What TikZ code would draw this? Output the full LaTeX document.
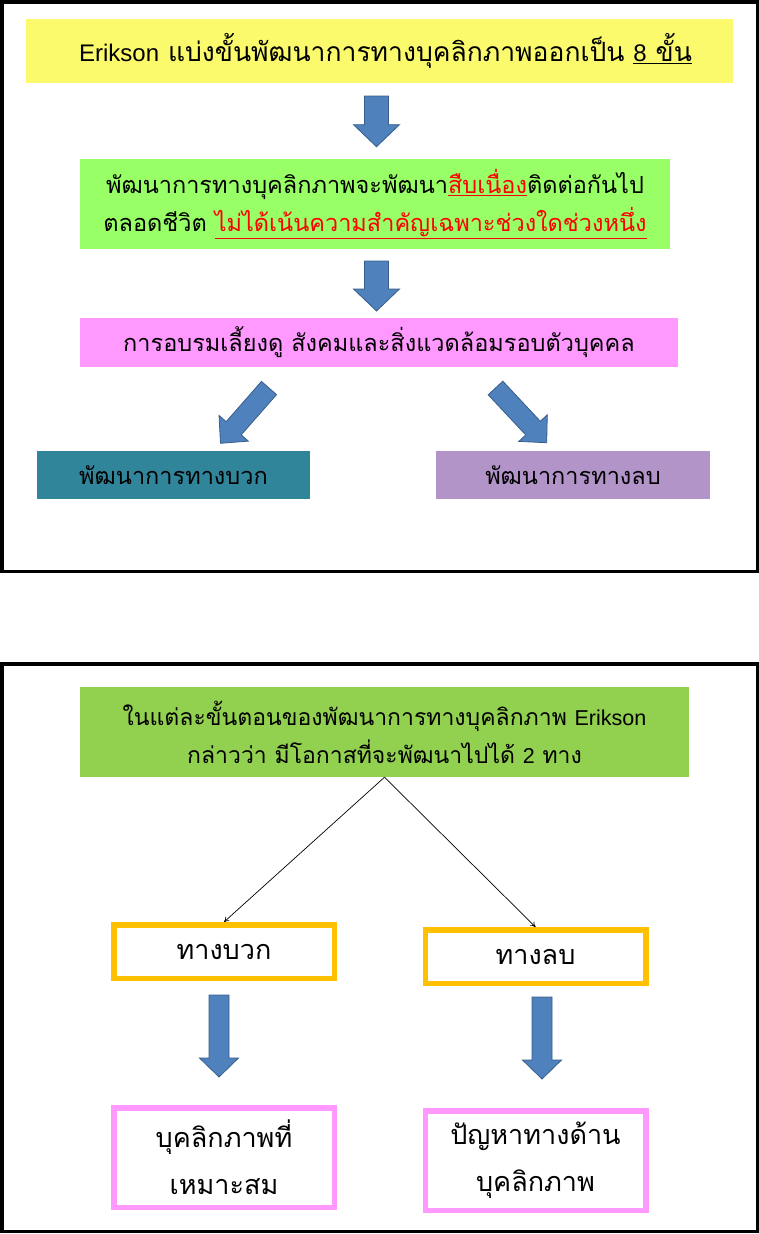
\documentclass[tikz,border=0pt]{standalone}
\usepackage{fontspec}
\setmainfont{Liberation Sans}
\newfontfamily\latinfont{Liberation Sans}
\newfontfamily\thaifont[Script=Thai]{Loma}
\usetikzlibrary{calc,arrows.meta}

\definecolor{yellowbox}{RGB}{250,250,108}
\definecolor{limebox}{RGB}{153,255,102}
\definecolor{pinkbox}{RGB}{255,153,255}
\definecolor{tealbox}{RGB}{49,133,155}
\definecolor{lilacbox}{RGB}{179,148,201}
\definecolor{greenbox}{RGB}{146,208,80}
\definecolor{goldline}{RGB}{255,192,0}
\definecolor{arrowfill}{RGB}{79,129,189}
\definecolor{arrowline}{RGB}{56,93,138}

% Latin words inside Thai text
\newcommand\enword[1]{{\latinfont #1}}
% red underlined emphasis
\newcommand\redline[1]{\textcolor{red}{\underline{#1}}}

% block arrow: tail, tip, shaft half-width, head half-width, head length
\newcommand\blockarrow[5]{%
  \coordinate (ba-h) at ($(#2)!#5!(#1)$);
  \filldraw[barrow]
    ($(#1)!#3!90:(#2)$) -- ($(ba-h)!#3!90:(#2)$) -- ($(ba-h)!#4!90:(#2)$)
    -- (#2)
    -- ($(ba-h)!#4!-90:(#2)$) -- ($(ba-h)!#3!-90:(#2)$) -- ($(#1)!#3!-90:(#2)$)
    -- cycle;
}

\tikzset{
  frame/.style={draw=black, line width=3.5pt},
  fillbox/.style={rectangle, inner sep=0pt, align=center, text=black},
  linebox/.style={rectangle, inner sep=0pt, align=center, line width=5.5pt, fill=white},
  barrow/.style={fill=arrowfill, draw=arrowline, line width=0.8pt, line join=miter},
  thin arrow/.style={draw=black, line width=0.7pt, -{To[length=5pt,width=6pt]}},
  headtext/.style={font=\thaifont\fontsize{26.5}{38}\selectfont},
  bigtext/.style={font=\thaifont\fontsize{23.5}{38}\selectfont},
  midtext/.style={font=\thaifont\fontsize{23}{38}\selectfont},
  boxtext/.style={font=\thaifont\fontsize{27}{47}\selectfont},
}

\begin{document}
\begin{tikzpicture}[x=1pt, y=-1pt]
\useasboundingbox (0,0) rectangle (759,1234);

% ---------------- upper panel ----------------
\draw[frame] (1.75,1.75) rectangle (757.25,571.25);

\node[fillbox, headtext, fill=yellowbox, minimum width=707pt, minimum height=64pt]
  (stages) at (379.5,51)
  {\hspace*{12pt}\enword{\fontsize{24}{38}\selectfont Erikson} แบ่งขั้นพัฒนาการทางบุคลิกภาพออกเป็น \underline{\enword{\fontsize{24}{38}\selectfont 8} ขั้น}};

\node[fillbox, bigtext, fill=limebox, minimum width=590pt, minimum height=90pt]
  (lifelong) at (375,204)
  {พัฒนาการทางบุคลิกภาพจะพัฒนา\redline{สืบเนื่อง}ติดต่อกันไป\\
   ตลอดชีวิต \redline{ไม่ได้เน้นความสำคัญเฉพาะช่วงใดช่วงหนึ่ง}};

\node[fillbox, bigtext, fill=pinkbox, minimum width=598pt, minimum height=49pt]
  (nurture) at (379,342.5)
  {การอบรมเลี้ยงดู สังคมและสิ่งแวดล้อมรอบตัวบุคคล};

\node[fillbox, bigtext, fill=tealbox, minimum width=273pt, minimum height=48pt]
  (positive) at (173.5,475) {พัฒนาการทางบวก};

\node[fillbox, bigtext, fill=lilacbox, minimum width=274pt, minimum height=48pt]
  (negative) at (573,475) {พัฒนาการทางลบ};

\coordinate (a1t) at (376.5,96);    \coordinate (a1h) at (376.5,146.7);
\coordinate (a2t) at (376.5,261);   \coordinate (a2h) at (376.5,311);
\coordinate (a3t) at (269,388);     \coordinate (a3h) at (220.5,443.3);
\coordinate (a4t) at (495.5,388);   \coordinate (a4h) at (546.7,442.7);

\blockarrow{a1t}{a1h}{12pt}{23pt}{22pt}
\blockarrow{a2t}{a2h}{12pt}{23pt}{22pt}
\blockarrow{a3t}{a3h}{10pt}{19.5pt}{20pt}
\blockarrow{a4t}{a4h}{10pt}{19.5pt}{20pt}

% ---------------- lower panel ----------------
\draw[frame] (1.75,663.75) rectangle (757.25,1231.5);

\node[fillbox, midtext, fill=greenbox, minimum width=609pt, minimum height=90pt]
  (twoways) at (384.5,732)
  {ในแต่ละขั้นตอนของพัฒนาการทางบุคลิกภาพ \enword{\fontsize{21.5}{38}\selectfont Erikson}\\
   กล่าวว่า มีโอกาสที่จะพัฒนาไปได้ \enword{\fontsize{21.5}{38}\selectfont 2} ทาง};

\node[linebox, boxtext, draw=goldline, minimum width=220.5pt, minimum height=53.5pt]
  (good) at (224,951.5) {ทางบวก};
\node[linebox, boxtext, draw=goldline, minimum width=220.5pt, minimum height=53.5pt]
  (bad) at (535.5,956.5) {ทางลบ};

\node[linebox, boxtext, draw=pinkbox, minimum width=220.5pt, minimum height=99.5pt]
  (fitting) at (224,1157.5) {บุคลิกภาพที่\\เหมาะสม};
\node[linebox, boxtext, draw=pinkbox, minimum width=220.5pt, minimum height=99.5pt]
  (problem) at (535.5,1160.5) {ปัญหาทางด้าน\\บุคลิกภาพ};

\draw[thin arrow] (twoways.south) -- (good.north);
\draw[thin arrow] (twoways.south) -- (bad.north);

\coordinate (b1t) at (219,995);   \coordinate (b1h) at (219,1077);
\coordinate (b2t) at (542,997);   \coordinate (b2h) at (542,1079);
\blockarrow{b1t}{b1h}{10pt}{19.5pt}{19pt}
\blockarrow{b2t}{b2h}{10pt}{19.5pt}{19pt}
\end{tikzpicture}
\end{document}
